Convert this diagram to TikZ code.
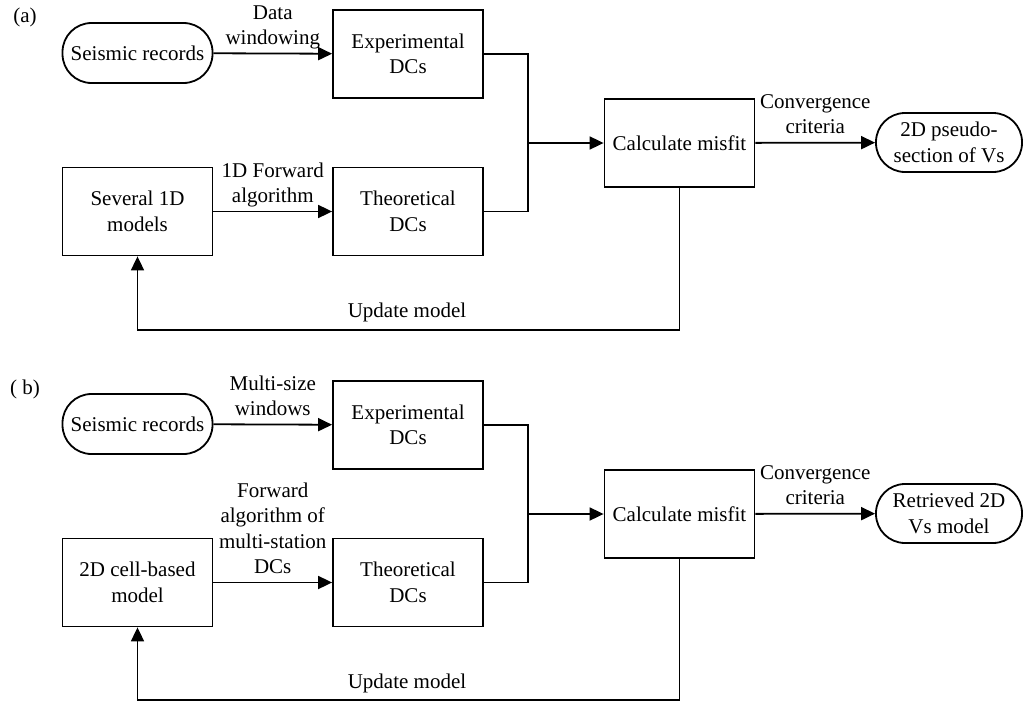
\documentclass[tikz,border=0pt]{standalone}
\usepackage{fontspec}
\setmainfont{Liberation Serif}
\usetikzlibrary{arrows.meta}
\tikzset{
  proc/.style={draw, line width=1.8pt, minimum width=150pt, minimum height=88pt, align=center, inner sep=2pt},
  pill/.style={draw, line width=1.8pt, rounded corners=29pt, minimum height=60pt, align=center, inner sep=2pt},
  lbl/.style={align=center, inner sep=0pt, text depth=6pt},
  arr/.style={line width=1.8pt, -{Triangle[length=14pt,width=13pt]}},
  ln/.style={line width=1.8pt}
}
\begin{document}
\begin{tikzpicture}[x=1pt,y=-1pt,font=\fontsize{21}{25.5}\selectfont]
\useasboundingbox (0,0) rectangle (1023,704);
%%% (a) several 1D models
\node (taga) at (25,17) {(a)};
\node[pill, minimum width=150pt] (sra) at (137.5,53) {Seismic records};
\node[proc] (expa) at (408,54) {Experimental\\DCs};
\node[proc] (sev) at (137.5,211.5) {Several 1D\\models};
\node[proc] (theoa) at (408,211.5) {Theoretical\\DCs};
\node[proc] (calca) at (679.5,143) {Calculate misfit};
\node[pill, minimum width=146pt, minimum height=59pt] (outa) at (949,142.5) {2D pseudo-\\section of Vs};
\coordinate (ja) at (528,143);
\coordinate (fa) at (679.5,330);
\node[lbl] (upda) at (407,313) {Update model};
\draw[arr] (sra) -- node[lbl, above=2pt] {Data\\windowing} (expa);
\draw[arr] (sev) -- node[lbl, above=2pt] {1D Forward\\algorithm} (theoa);
\draw[ln] (expa.east) -| (ja);
\draw[ln] (theoa.east) -| (ja);
\draw[arr] (ja) -- (calca.west);
\draw[arr] (calca) -- node[lbl, above=2pt] {Convergence\\criteria} (outa);
\draw[arr] (calca.south) -- (fa) -| (sev.south);
%%% (b) 2D cell-based model
\node (tagb) at (25,389) {( b)};
\node[pill, minimum width=150pt] (srb) at (137.5,424) {Seismic records};
\node[proc] (expb) at (408,425) {Experimental\\DCs};
\node[proc] (cell) at (137.5,582.5) {2D cell-based\\model};
\node[proc] (theob) at (408,582.5) {Theoretical\\DCs};
\node[proc] (calcb) at (679.5,514) {Calculate misfit};
\node[pill, minimum width=146pt, minimum height=59pt] (outb) at (949,513.5) {Retrieved 2D\\Vs model};
\coordinate (jb) at (528,514);
\coordinate (fb) at (679.5,700);
\node[lbl] (updb) at (407,684) {Update model};
\draw[arr] (srb) -- node[lbl, above=2pt] {Multi-size\\windows} (expb);
\draw[arr] (cell) -- node[lbl, above=2pt] {Forward\\algorithm of\\multi-station\\DCs} (theob);
\draw[ln] (expb.east) -| (jb);
\draw[ln] (theob.east) -| (jb);
\draw[arr] (jb) -- (calcb.west);
\draw[arr] (calcb) -- node[lbl, above=2pt] {Convergence\\criteria} (outb);
\draw[arr] (calcb.south) -- (fb) -| (cell.south);
\end{tikzpicture}
\end{document}
